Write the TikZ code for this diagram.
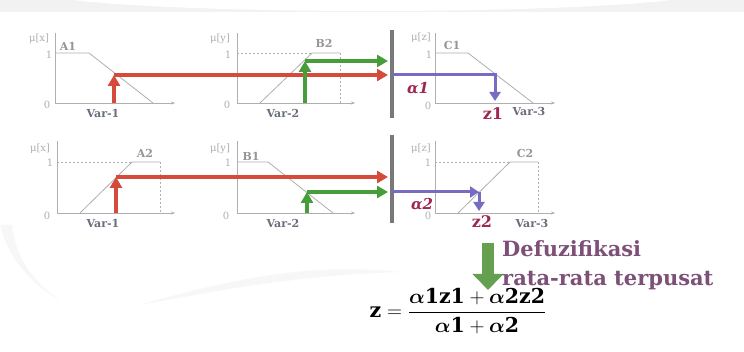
\documentclass[tikz,border=0pt]{standalone}
\usepackage{amsmath}
\usepackage{amssymb}
\usepackage{fontspec}
\setmainfont{DejaVu Serif}
\usetikzlibrary{arrows.meta}
\definecolor{redarr}{RGB}{214,74,60}
\definecolor{greenarr}{RGB}{70,158,58}
\definecolor{bluearr}{RGB}{118,108,196}
\definecolor{maroon}{RGB}{160,40,80}
\definecolor{axisgray}{RGB}{175,175,175}
\definecolor{bargray}{RGB}{120,120,120}
\definecolor{vargray}{RGB}{105,110,125}
\definecolor{defzcol}{RGB}{125,80,120}
\definecolor{bigarr}{RGB}{100,160,80}
\definecolor{wmark}{RGB}{242,242,242}

\begin{document}
\begin{tikzpicture}[x=1pt,y=-1pt,
  axis/.style={draw=axisgray, line width=0.8pt},
  mf/.style={draw=axisgray, line width=0.8pt},
  guide/.style={draw=axisgray, line width=0.7pt, dash pattern=on 2pt off 2pt},
  murow/.style={text=axisgray, font=\fontsize{10}{12}\selectfont},
  tick/.style={text=axisgray, font=\fontsize{10}{12}\selectfont},
  setlbl/.style={text=axisgray!85!black, font=\bfseries\fontsize{11}{13}\selectfont},
  varlbl/.style={text=vargray, font=\bfseries\fontsize{11}{13}\selectfont},
  redline/.style={draw=redarr, line width=4pt, -{Triangle[length=11pt,width=12pt]}},
  greenline/.style={draw=greenarr, line width=4pt, -{Triangle[length=11pt,width=12pt]}},
  blueline/.style={draw=bluearr, line width=3pt, -{Triangle[length=9pt,width=11pt]}},
  alphalbl/.style={text=maroon, font=\bfseries\itshape\fontsize{15}{17}\selectfont},
  zlbl/.style={text=maroon, font=\bfseries\fontsize{16}{18}\selectfont},
  bar/.style={draw=bargray, line width=4pt}]
\useasboundingbox (0,0) rectangle (744,352);
\fill[white] (0,0) rectangle (744,352);

% faint background swooshes
\fill[wmark] (0,0) rectangle (744,12);
\fill[white] (372,-8) ellipse (330 and 19);
\fill[wmark!60!white] (0,225) .. controls (10,265) and (40,290) .. (60,300)
  .. controls (30,280) and (15,255) .. (12,225) -- cycle;
\fill[wmark!60!white] (140,305) .. controls (260,270) and (330,265) .. (400,272)
  .. controls (300,275) and (220,290) .. (140,305) -- cycle;

% A1 panel
\draw[axis] (55,33) -- (55,103);
\draw[axis, -{Stealth[length=4pt,width=3pt]}] (55,103) -- (175,103);
\draw[mf] (55,53) -- (89,53) -- (153,103);
\node[murow] (mux1) at (39,39) {μ[x]};
\node[tick] (one1) at (49,55) {1};
\node[tick] (zero1) at (47,105) {0};
\node[setlbl] (seta1) at (68,46) {A1};
\node[varlbl] (var11) at (103,113) {Var-1};

% B2 panel
\draw[axis] (237,33) -- (237,103);
\draw[axis, -{Stealth[length=4pt,width=3pt]}] (237,103) -- (355,103);
\draw[guide] (237,53) -- (312,53);
\draw[guide] (340,53) -- (340,103);
\draw[mf] (260,103) -- (312,53) -- (340,53);
\node[murow] (muy1) at (220,39) {μ[y]};
\node[tick] (one2) at (228,55) {1};
\node[tick] (zero2) at (227,105) {0};
\node[setlbl] (setb2) at (324,43) {B2};
\node[varlbl] (var21) at (283,113) {Var-2};

% C1 panel
\draw[axis] (435,33) -- (435,103);
\draw[axis, -{Stealth[length=4pt,width=3pt]}] (435,103) -- (555,103);
\draw[mf] (435,53) -- (468,53) -- (533,103);
\node[murow] (muz1) at (421,38) {μ[z]};
\node[tick] (one3) at (429,55) {1};
\node[tick] (zero3) at (428,106) {0};
\node[setlbl] (setc1) at (452,45) {C1};
\node[varlbl] (var31) at (529,111) {Var-3};

% rule 1 arrows
\coordinate (r1foot) at (114,103);
\coordinate (r1hit) at (114,75);
\coordinate (g1foot) at (305,103);
\coordinate (g1hit) at (305,61);
\coordinate (bar1top) at (392,30);
\coordinate (bar1bot) at (392,118);
\coordinate (bar1r) at (388,75);
\coordinate (bar1g) at (388,61);
\coordinate (c1start) at (392,75);
\coordinate (c1hit) at (495,75);
\coordinate (c1foot) at (495,101);
\draw[bar] (bar1top) -- (bar1bot);
\draw[redline] (r1hit) -- (bar1r);
\draw[redline] (r1foot) -- (r1hit);
\draw[greenline] (g1hit) -- (bar1g);
\draw[greenline] (g1foot) -- (g1hit);
\draw[blueline] (c1start) -- (c1hit) -- (c1foot);
\node[alphalbl] (alpha1) at (418,88) {α1};
\node[zlbl] (z1) at (493,114) {z1};

% A2 panel
\draw[axis] (57,141) -- (57,213);
\draw[axis, -{Stealth[length=4pt,width=3pt]}] (57,213) -- (175,213);
\draw[guide] (57,162) -- (132,162);
\draw[guide] (160,162) -- (160,213);
\draw[mf] (80,213) -- (132,162) -- (160,162);
\node[murow] (mux2) at (40,149) {μ[x]};
\node[tick] (one4) at (50,163) {1};
\node[tick] (zero4) at (47,216) {0};
\node[setlbl] (seta2) at (145,153) {A2};
\node[varlbl] (var12) at (103,223) {Var-1};

% B1 panel
\draw[axis] (237,141) -- (237,213);
\draw[axis, -{Stealth[length=4pt,width=3pt]}] (237,213) -- (355,213);
\draw[mf] (237,162) -- (268,162) -- (333,213);
\node[murow] (muy2) at (220,149) {μ[y]};
\node[tick] (one5) at (228,163) {1};
\node[tick] (zero5) at (226,216) {0};
\node[setlbl] (setb1) at (251,156) {B1};
\node[varlbl] (var22) at (283,223) {Var-2};

% C2 panel
\draw[axis] (435,141) -- (435,213);
\draw[axis, -{Stealth[length=4pt,width=3pt]}] (435,213) -- (555,213);
\draw[guide] (435,162) -- (510,162);
\draw[guide] (538,162) -- (538,213);
\draw[mf] (458,213) -- (510,162) -- (538,162);
\node[murow] (muz2) at (421,149) {μ[z]};
\node[tick] (one6) at (428,163) {1};
\node[tick] (zero6) at (428,216) {0};
\node[setlbl] (setc2) at (525,153) {C2};
\node[varlbl] (var32) at (532,223) {Var-3};

% rule 2 arrows
\coordinate (r2foot) at (116,213);
\coordinate (r2hit) at (116,177);
\coordinate (g2foot) at (307,213);
\coordinate (g2hit) at (307,192);
\coordinate (bar2top) at (392,135);
\coordinate (bar2bot) at (392,223);
\coordinate (bar2r) at (388,177);
\coordinate (bar2g) at (388,192);
\coordinate (c2start) at (392,192);
\coordinate (c2hit) at (479,192);
\coordinate (c2foot) at (479,211);
\draw[bar] (bar2top) -- (bar2bot);
\draw[redline] (r2hit) -- (bar2r);
\draw[redline] (r2foot) -- (r2hit);
\draw[greenline] (g2hit) -- (bar2g);
\draw[greenline] (g2foot) -- (g2hit);
\draw[blueline] (c2start) -- (c2hit);
\draw[blueline] (c2hit) -- (c2foot);
\node[alphalbl] (alpha2) at (422,204) {α2};
\node[zlbl] (z2) at (482,222) {z2};

% defuzzification
\coordinate (defztop) at (488,243);
\coordinate (defztip) at (488,290);
\draw[draw=bigarr, line width=12pt, -{Triangle[length=16pt,width=30pt]}] (defztop) -- (defztip);
\node[anchor=west, align=left, text=defzcol, font=\bfseries\fontsize{21}{29}\selectfont, inner sep=0pt]
  (defz) at (502,265) {Defuzifikasi\\rata-rata terpusat};
\node[inner sep=0pt] (formula) at (458,311) {\fontsize{20.5}{24}\selectfont
  $\mathbf{z}=\dfrac{\boldsymbol{\alpha}\mathbf{1z1}+\boldsymbol{\alpha}\mathbf{2z2}}{\boldsymbol{\alpha}\mathbf{1}+\boldsymbol{\alpha}\mathbf{2}}$};
\end{tikzpicture}
\end{document}
